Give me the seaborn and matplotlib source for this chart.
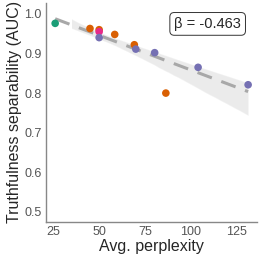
import numpy as np
import pandas as pd
import matplotlib
matplotlib.use('Agg')
import matplotlib.pyplot as plt
import matplotlib.patches as mpatches
import seaborn as sns

# values
perplexity = [26, 45, 50, 50, 50, 58.5, 69.2, 70, 80.3, 86.4, 104, 131.3]
auc = [0.976, 0.963, 0.960, 0.955, 0.940, 0.948, 0.922, 0.911, 0.902, 0.800, 0.865, 0.821]
family = ['A', 'B', 'B', 'C', 'D', 'B', 'B', 'D', 'D', 'B', 'D', 'D']
family_colors = {'A': '#1b9e77', 'B': '#d95f02', 'C': '#e7298a', 'D': '#7570b3'}
beta_text = 'β = -0.463'
x_ticks = [25, 50, 75, 100, 125]
y_ticks = [0.5, 0.6, 0.7, 0.8, 0.9, 1.0]

df = pd.DataFrame({'perplexity': perplexity, 'auc': auc, 'family': family})

sns.set_style('white')
plt.rcParams['font.family'] = ['Liberation Sans', 'DejaVu Sans']

fig = plt.figure(figsize=(2.62, 2.62), dpi=100)
ax = fig.add_axes([0.1756, 0.154, 0.805, 0.834])

#Regression line + CI band
sns.regplot(data=df, x='perplexity', y='auc', scatter=False, ci=88, seed=0, ax=ax,
            color='#a8a8a8',
            line_kws={'linestyle': (0, (5, 3.3)), 'linewidth': 2.2, 'zorder': 2})
band = ax.collections[-1]
band.set_alpha(0.22)
band.set_zorder(1)
clip = mpatches.Rectangle((35, 0), 200, 2, transform=ax.transData)
band.set_clip_path(clip)

sns.scatterplot(data=df, x='perplexity', y='auc', hue='family', palette=family_colors,
                s=30, edgecolor='none', legend=False, ax=ax, zorder=3)

ax.set_xlim(21.0, 136.1)
ax.set_ylim(0.4755, 1.027)
ax.set_xticks(x_ticks)
ax.set_yticks(y_ticks)
ax.set_xticklabels([str(t) for t in x_ticks])
ax.set_yticklabels([f'{t:.1f}' for t in y_ticks])
ax.tick_params(axis='both', length=0, labelsize=9, labelcolor='#555555', pad=3)
ax.set_xlabel('Avg. perplexity', fontsize=11.5, labelpad=1)
ax.set_ylabel('Truthfulness separability (AUC)', fontsize=11.5, labelpad=2)

sns.despine(ax=ax)
for side in ['left', 'bottom']:
    ax.spines[side].set_color('#888888')
    ax.spines[side].set_linewidth(1.0)

ax.text(0.925, 0.905, beta_text, transform=ax.transAxes, ha='right', va='center',
        fontsize=10.5,
        bbox=dict(boxstyle='round,pad=0.3', facecolor='white', edgecolor='#333333', linewidth=0.7))

fig.savefig('out.png', dpi=100)
plt.close()
